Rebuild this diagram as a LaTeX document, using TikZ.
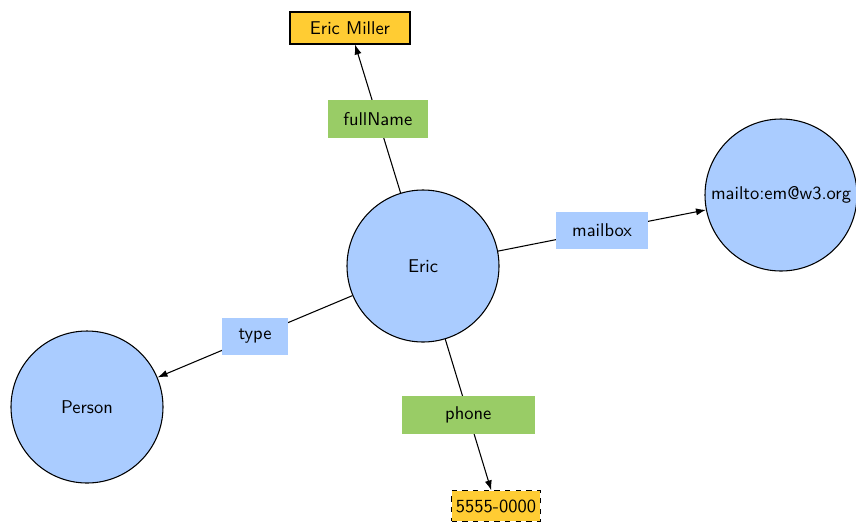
\documentclass[tikz,border=0pt]{standalone}
\usetikzlibrary{arrows.meta}
\definecolor{nodeblue}{RGB}{170,204,255}
\definecolor{labgreen}{RGB}{153,204,102}
\definecolor{lityellow}{RGB}{255,204,51}
\begin{document}
\begin{tikzpicture}[x=0.5625pt,y=-0.5625pt,font=\sffamily\fontsize{10.4}{12.5}\selectfont,
  res/.style={circle,draw,fill=nodeblue,line width=0.6pt,minimum size=85.5pt,inner sep=0pt},
  lit/.style={draw,fill=lityellow,line width=0.6pt,inner sep=1pt},
  glab/.style={fill=labgreen,minimum height=21.4pt,inner sep=0pt},
  blab/.style={fill=nodeblue,minimum height=21pt,inner sep=0pt},
  edge/.style={line width=0.6pt,-{Latex[length=5.6pt,width=4pt]}}]
\useasboundingbox (0,0) rectangle (856,521);
\node[res] (eric) at (423,266) {Eric};
\node[res] (person) at (87,407) {Person};
\node[res] (mail) at (781,195) {mailto:em@w3.org};
\node[lit,minimum width=67.5pt,minimum height=18pt] (name) at (350,28) {Eric Miller};
\node[lit,dashed,minimum width=50pt,minimum height=17pt] (tel) at (496,506) {5555-0000};
\draw[edge] (eric) -- node[glab,minimum width=56.3pt] (lfull) {fullName} (name);
\draw[edge] (eric) -- node[blab,minimum width=51.8pt] (lmail) {mailbox} (mail);
\draw[edge] (eric) -- node[blab,minimum width=36.6pt] (ltype) {type} (person);
\draw[edge] (eric) -- node[glab,minimum width=74.8pt] (lphone) {phone} (tel);
\end{tikzpicture}
\end{document}
